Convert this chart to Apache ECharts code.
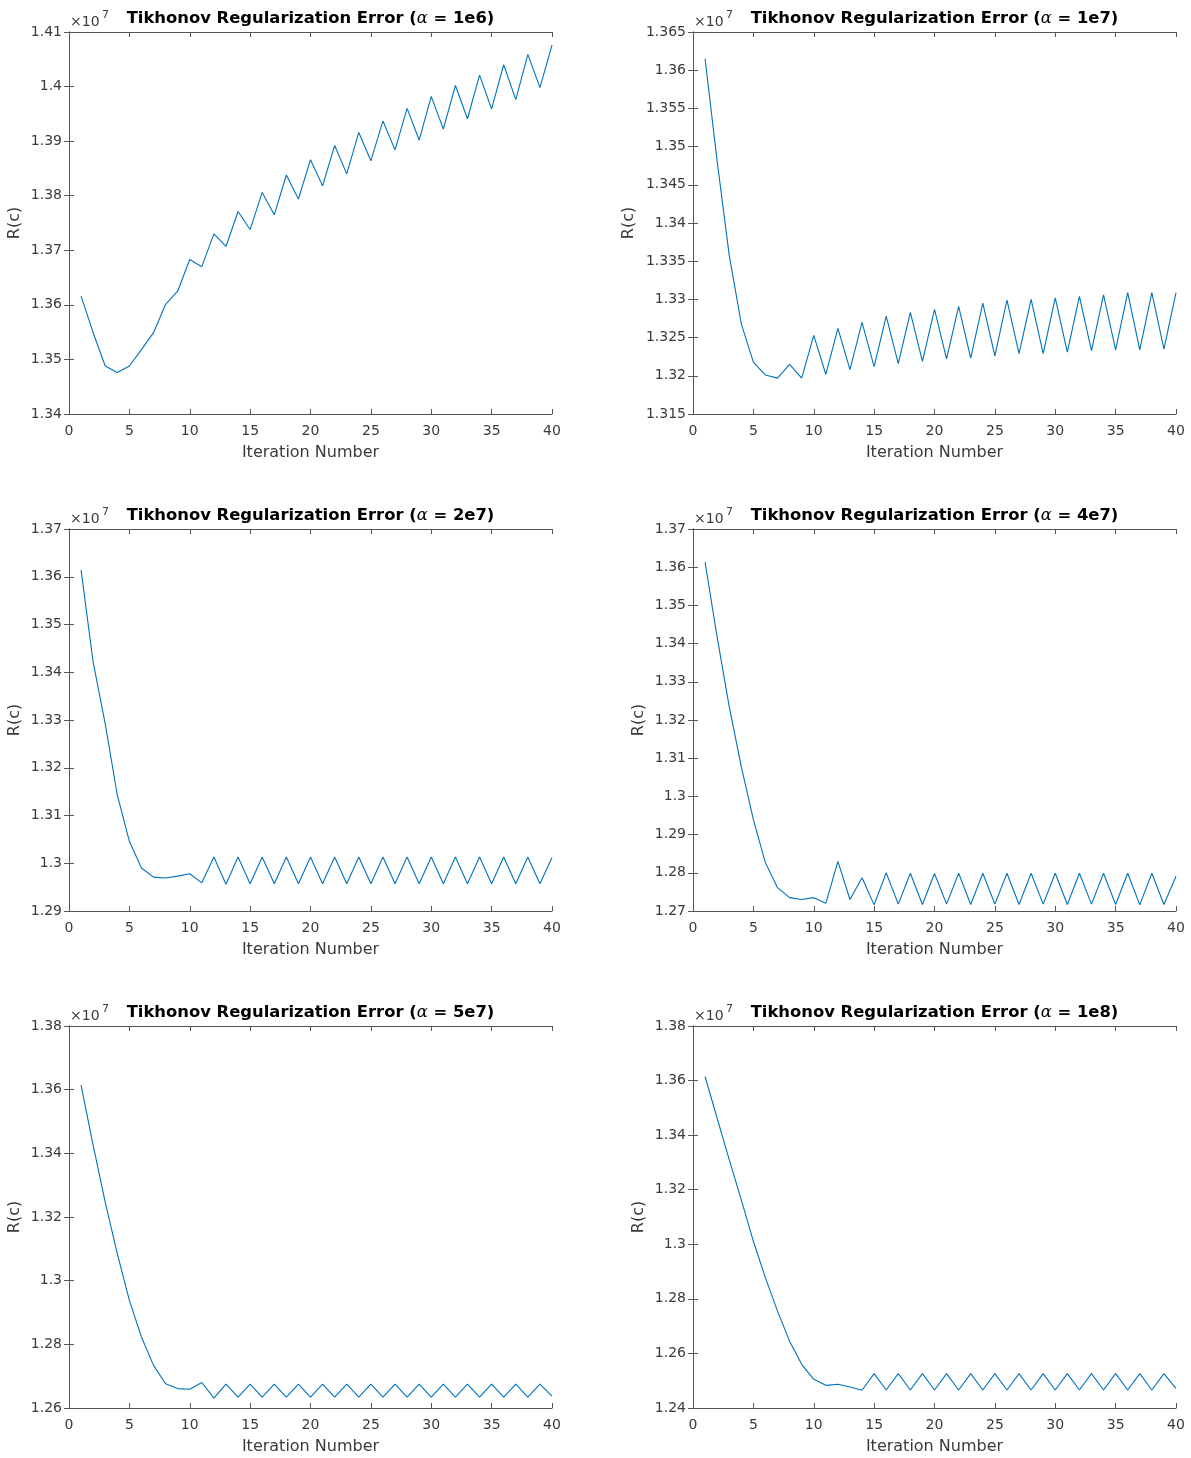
<!DOCTYPE html>
<html>
<head>
<meta charset="utf-8">
<script src="https://cdn.jsdelivr.net/npm/echarts@6/dist/echarts.min.js"></script>
<style>
html,body{margin:0;padding:0;background:#fff;}
#chart{width:1191px;height:1458px;}
</style>
</head>
<body>
<div id="chart"></div>
<script>
// Iterations 1..40
const iterations = [1,2,3,4,5,6,7,8,9,10,11,12,13,14,15,16,17,18,19,20,21,22,23,24,25,26,27,28,29,30,31,32,33,34,35,36,37,38,39,40];

// R(c) values in units of 1e7
const alpha1e6 = [1.3616,1.3549,1.3488,1.3476,1.3488,1.3518,1.3549,1.3601,1.3625,1.3683,
  1.3670,1.3730,1.3707,1.3771,1.3738,1.3806,1.3765,1.3838,1.3794,1.3866,
  1.3818,1.3892,1.3840,1.3916,1.3864,1.3937,1.3884,1.3960,1.3902,1.3982,
  1.3922,1.4002,1.3941,1.4021,1.3959,1.4040,1.3976,1.4059,1.3998,1.4076];
const alpha1e7 = [1.3615,1.3481,1.3358,1.3268,1.3218,1.3201,1.3197,1.3215,1.3197,1.3253,
  1.3202,1.3262,1.3208,1.3270,1.3212,1.3278,1.3216,1.3283,1.3219,1.3287,
  1.3222,1.3291,1.3223,1.3295,1.3226,1.3299,1.3229,1.3300,1.3229,1.3302,
  1.3231,1.3304,1.3233,1.3306,1.3234,1.3309,1.3234,1.3309,1.3235,1.3309];
const alpha2e7 = [1.3614,1.3421,1.3292,1.3143,1.3046,1.2990,1.2971,1.2969,1.2973,1.2978,
  1.2959,1.3013,1.2956,1.3013,1.2957,1.3013,1.2957,1.3013,1.2957,1.3013,
  1.2957,1.3013,1.2957,1.3013,1.2957,1.3013,1.2957,1.3013,1.2957,1.3013,
  1.2957,1.3013,1.2957,1.3013,1.2957,1.3013,1.2957,1.3013,1.2957,1.3012];
const alpha4e7 = [1.3613,1.3417,1.3235,1.3078,1.2939,1.2826,1.2761,1.2735,1.2730,1.2735,
  1.2720,1.2830,1.2730,1.2787,1.2716,1.2800,1.2718,1.2799,1.2717,1.2798,
  1.2718,1.2799,1.2717,1.2799,1.2718,1.2799,1.2717,1.2799,1.2718,1.2799,
  1.2717,1.2799,1.2718,1.2799,1.2717,1.2799,1.2716,1.2799,1.2717,1.2791];
const alpha5e7 = [1.3614,1.3425,1.3247,1.3085,1.2938,1.2823,1.2734,1.2676,1.2661,1.2659,
  1.2680,1.2631,1.2675,1.2634,1.2675,1.2634,1.2675,1.2634,1.2675,1.2634,
  1.2675,1.2634,1.2675,1.2634,1.2675,1.2634,1.2675,1.2634,1.2675,1.2634,
  1.2675,1.2634,1.2675,1.2634,1.2675,1.2634,1.2675,1.2634,1.2675,1.2637];
const alpha1e8 = [1.3615,1.3462,1.3310,1.3163,1.3011,1.2877,1.2755,1.2645,1.2560,1.2505,
  1.2483,1.2487,1.2477,1.2465,1.2526,1.2466,1.2526,1.2466,1.2526,1.2466,
  1.2526,1.2466,1.2526,1.2466,1.2526,1.2466,1.2526,1.2466,1.2526,1.2466,
  1.2526,1.2466,1.2526,1.2466,1.2526,1.2466,1.2526,1.2466,1.2526,1.2472];

const alphaLabels = ['1e6','1e7','2e7','4e7','5e7','1e8'];
const seriesValues = [alpha1e6, alpha1e7, alpha2e7, alpha4e7, alpha5e7, alpha1e8];
const yMin = [1.34, 1.315, 1.29, 1.27, 1.26, 1.24];
const yMax = [1.41, 1.365, 1.37, 1.37, 1.38, 1.38];
const yStep = [0.01, 0.005, 0.01, 0.01, 0.02, 0.02];
const xTicks = {min: 0, max: 40, step: 5};

// Layout (not data)
const gridLefts = [69, 693];
const gridTops = [32, 529, 1026];
const GW = 483, GH = 382;
const yNameGaps = [46, 56, 46, 46, 46, 46];

const FONT = 'DejaVu Sans';
const axisColor = '#555555';
const textColor = '#3a3a3a';
const lineColor = '#0072BD';

const grids = [], xAxes = [], yAxes = [], series = [], graphics = [];
for (let p = 0; p < 6; p++) {
  const col = p % 2, row = Math.floor(p / 2);
  const left = gridLefts[col], top = gridTops[row];
  grids.push({left: left, top: top, width: GW, height: GH, containLabel: false});
  const lineStyle = {color: axisColor, width: 1};
  const tick = {show: true, inside: true, length: 5, lineStyle: lineStyle};
  xAxes.push({
    gridIndex: p, type: 'value', position: 'bottom',
    min: xTicks.min, max: xTicks.max, interval: xTicks.step,
    axisLine: {show: true, lineStyle: lineStyle}, axisTick: tick,
    axisLabel: {color: textColor, fontSize: 14, fontFamily: FONT, margin: 10},
    splitLine: {show: false},
    name: 'Iteration Number', nameLocation: 'middle', nameGap: 31,
    nameTextStyle: {color: textColor, fontSize: 16, fontFamily: FONT}
  });
  xAxes.push({
    gridIndex: p, type: 'value', position: 'top',
    min: xTicks.min, max: xTicks.max, interval: xTicks.step,
    axisLine: {show: true, lineStyle: lineStyle}, axisTick: tick,
    axisLabel: {show: false}, splitLine: {show: false}
  });
  yAxes.push({
    gridIndex: p, type: 'value', position: 'left',
    min: yMin[p], max: yMax[p], interval: yStep[p],
    axisLine: {show: true, lineStyle: lineStyle}, axisTick: tick,
    axisLabel: {color: textColor, fontSize: 14, fontFamily: FONT, margin: 7},
    splitLine: {show: false},
    name: 'R(c)', nameLocation: 'middle', nameGap: yNameGaps[p], nameRotate: 90,
    nameTextStyle: {color: textColor, fontSize: 16, fontFamily: FONT}
  });
  yAxes.push({
    gridIndex: p, type: 'value', position: 'right',
    min: yMin[p], max: yMax[p], interval: yStep[p],
    axisLine: {show: true, lineStyle: lineStyle}, axisTick: tick,
    axisLabel: {show: false}, splitLine: {show: false}
  });
  series.push({
    type: 'line', xAxisIndex: 2 * p, yAxisIndex: 2 * p,
    data: iterations.map((it, i) => [it, seriesValues[p][i]]),
    showSymbol: false, symbol: 'none',
    lineStyle: {color: lineColor, width: 1.1},
    animation: false, silent: true
  });
  // title
  graphics.push({
    type: 'text', x: left + GW / 2, y: top - 13,
    style: {
      text: '{b|Tikhonov Regularization Error (}{a|α}{b| = ' + alphaLabels[p] + ')}',
      align: 'center', verticalAlign: 'middle',
      rich: {
        b: {fontFamily: FONT, fontWeight: 'bold', fontSize: 16.4, fill: '#000'},
        a: {fontFamily: 'DejaVu Serif', fontStyle: 'italic', fontSize: 16.4, fill: '#000'}
      }
    }
  });
  // exponent label
  graphics.push({
    type: 'text', x: left + 1, y: top - 10,
    style: {text: '×10', fontFamily: FONT, fontSize: 14, fill: textColor, align: 'left', verticalAlign: 'middle'}
  });
  graphics.push({
    type: 'text', x: left + 33, y: top - 17,
    style: {text: '7', fontFamily: FONT, fontSize: 11, fill: textColor, align: 'left', verticalAlign: 'middle'}
  });
}

const chart = echarts.init(document.getElementById('chart'), null, {renderer: 'canvas'});
chart.setOption({
  backgroundColor: '#ffffff',
  animation: false,
  grid: grids, xAxis: xAxes, yAxis: yAxes, series: series,
  graphic: graphics
});
</script>
</body>
</html>
